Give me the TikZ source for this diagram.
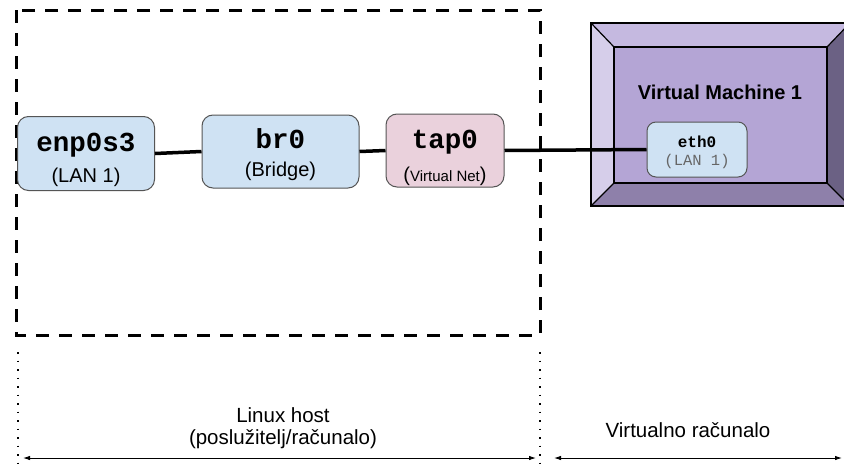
\documentclass[tikz,border=0pt]{standalone}
\usepackage{fontspec}
\setmainfont{Liberation Sans}
\newfontfamily\netmono{Liberation Mono}
\usetikzlibrary{arrows.meta}
\definecolor{boxblue}{HTML}{CFE2F3}
\definecolor{boxpink}{HTML}{EAD1DC}
\definecolor{boxborder}{HTML}{555555}
\definecolor{vmfront}{HTML}{B4A5D5}
\definecolor{vmtop}{HTML}{C5B9E0}
\definecolor{vmleft}{HTML}{D6CEEA}
\definecolor{vmbottom}{HTML}{8E80AA}
\definecolor{vmright}{HTML}{6B6184}
\definecolor{lantext}{HTML}{666666}
\begin{document}
\begin{tikzpicture}[x=1pt,y=-1pt,
  netbox/.style={draw=boxborder, line width=1pt, rounded corners=11pt, inner sep=0pt},
  ifname/.style={anchor=base, inner sep=0pt, font=\netmono\bfseries\fontsize{27.5}{27.5}\selectfont},
  ifsub/.style={anchor=base, inner sep=0pt, font=\fontsize{20}{20}\selectfont},
  link/.style={line width=3.5pt, black},
  face/.style={draw=black, line width=1.2pt, line join=miter},
  hostbox/.style={line width=3pt, dash pattern=on 13pt off 10pt},
  divider/.style={line width=1.5pt, dash pattern=on 1.5pt off 7pt},
  span/.style={line width=0.9pt, {Latex[length=7pt,width=4.5pt]}-{Latex[length=7pt,width=4.5pt]}},
  caption/.style={anchor=base, inner sep=0pt, font=\fontsize{20.5}{20.5}\selectfont}]
\useasboundingbox (0,0) rectangle (844,466);
\clip (0,0) rectangle (844,466);
\fill[white] (0,0) rectangle (844,466);

% host (dashed) frame
\draw[hostbox] (16,10) rectangle (540,335);

% virtual machine bevelled box
\fill[vmtop] (591,23) -- (850,23) -- (827,47) -- (614,47) -- cycle;
\fill[vmleft] (591,23) -- (614,47) -- (614,183) -- (591,206) -- cycle;
\fill[vmbottom] (591,206) -- (614,183) -- (827,183) -- (850,206) -- cycle;
\fill[vmright] (850,23) -- (827,47) -- (827,183) -- (850,206) -- cycle;
\node[fill=vmfront, draw=black, line width=1.2pt, minimum width=213pt, minimum height=136pt, inner sep=0pt] (vm) at (720.5,115) {};
\draw[face] (591,23) rectangle (850,206);
\draw[face] (591,23) -- (614,47) (850,23) -- (827,47) (591,206) -- (614,183) (850,206) -- (827,183);
\node[anchor=center, inner sep=0pt, font=\bfseries\fontsize{20}{20}\selectfont] (vmlabel) at (720,92) {Virtual Machine 1};

% interface boxes
\node[netbox, fill=boxblue, minimum width=137pt, minimum height=74pt] (enp) at (86,153.5) {};
\node[netbox, fill=boxblue, minimum width=157pt, minimum height=73pt] (br) at (280.5,151.5) {};
\node[netbox, fill=boxpink, minimum width=118pt, minimum height=73pt] (tap) at (445,150.5) {};
\node[netbox, fill=boxblue, minimum width=100pt, minimum height=55pt, rounded corners=9pt] (eth) at (697,149.5) {};

\node[ifname] (enpname) at (86,151) {enp0s3};
\node[ifsub] (enpsub) at (86,182) {(LAN 1)};
\node[ifname] (brname) at (280.5,148) {br0};
\node[ifsub] (brsub) at (280.5,176) {(Bridge)};
\node[ifname] (tapname) at (445,148) {tap0};
\node[ifsub] (tapsub) at (445,181) {(\fontsize{15}{15}\selectfont Virtual Net\fontsize{20}{20}\selectfont)};
\node[anchor=base, inner sep=0pt, font=\netmono\bfseries\fontsize{16}{16}\selectfont] (ethname) at (697,147) {eth0};
\node[anchor=base, inner sep=0pt, text=lantext, font=\netmono\fontsize{15.5}{15.5}\selectfont] (ethsub) at (697,165) {(LAN 1)};

% connectors
\draw[link] (enp.east) -- (br.west);
\draw[link] (br.east) -- (tap.west);
\draw[link] (tap.east) -- (eth.west);

% bottom annotation
\coordinate (d1t) at (18,352);
\coordinate (d1b) at (18,470);
\coordinate (d2t) at (540,352);
\coordinate (d2b) at (540,470);
\draw[divider] (d1t) -- (d1b);
\draw[divider] (d2t) -- (d2b);
\coordinate (a1l) at (23,458);
\coordinate (a1r) at (536,458);
\coordinate (a2l) at (554,458);
\coordinate (a2r) at (842,458);
\draw[span] (a1l) -- (a1r);
\draw[span] (a2l) -- (a2r);
\node[caption] (hostl1) at (283,422) {Linux host};
\node[caption] (hostl2) at (283,444) {(poslužitelj/računalo)};
\node[caption] (vmcap) at (688,437) {Virtualno računalo};
\end{tikzpicture}
\end{document}
